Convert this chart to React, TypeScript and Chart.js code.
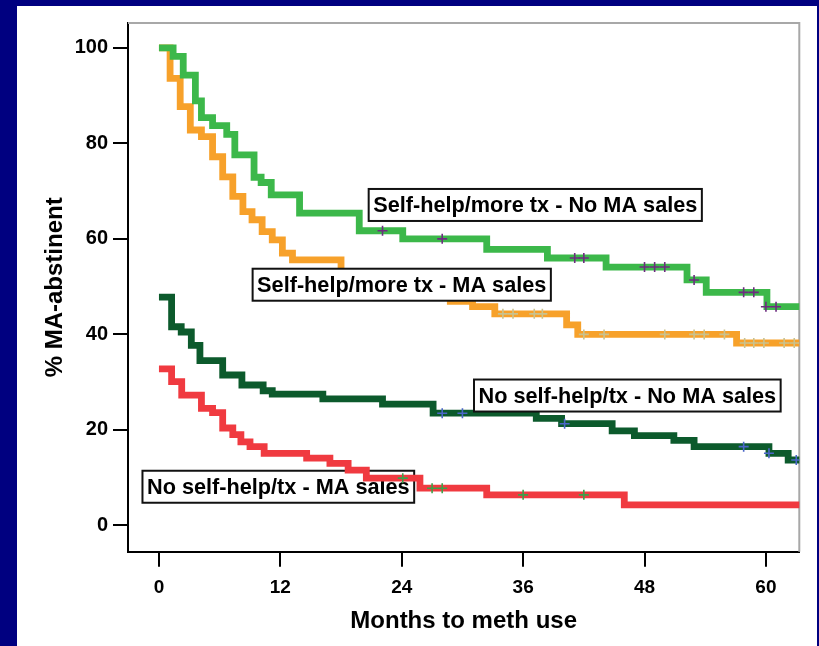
import React, { useEffect, useRef } from "react";
import { Chart, registerables } from "chart.js";

Chart.register(...registerables);

// Kaplan-Meier step curves: month where each level starts, and level (%)
const shNoSalesT = [0, 1.4, 2.4, 3.6, 4.2, 5.3, 6.7, 7.5, 9.4, 10.1, 11.1, 13.9, 19.8, 24.1, 32.4, 38.4, 44.2, 52.2, 54.1, 60.1, 63.6];
const shNoSalesV = [100, 98.2, 94.3, 88.9, 85.4, 83.7, 81.9, 77.6, 72.9, 71.8, 69.2, 65.4, 61.7, 60, 57.8, 56, 54.1, 51.4, 48.8, 45.8, 45.8];
const shNoSalesCensT = [22.1, 28, 41.1, 42, 48, 49, 50, 52.9, 57.8, 58.8, 60, 61];
const shNoSalesCensV = [61.7, 60, 56, 56, 54.1, 54.1, 54.1, 51.4, 48.8, 48.8, 45.8, 45.8];

const shSalesT = [0, 1.1, 2.1, 3.1, 4.2, 5.3, 6.3, 7.3, 8.3, 9.2, 10.2, 11.2, 12.2, 13.2, 18.0, 22.5, 26.7, 28.8, 31.0, 33.2, 40.3, 41.4, 57.1, 63.6];
const shSalesV = [100, 93.6, 87.7, 82.8, 81.4, 77.2, 73.0, 68.9, 65.7, 64.0, 61.5, 59.8, 57.0, 55.6, 52.8, 51.1, 49.0, 46.9, 45.8, 44.3, 42.0, 40.0, 38.2, 38.2];
const shSalesCensT = [34, 35, 37.1, 37.9, 42, 44, 50, 52.9, 53.9, 55.9, 57.9, 58.8, 59.8, 61.8, 62.8];
const shSalesCensV = [44.3, 44.3, 44.3, 44.3, 40, 40, 40, 40, 40, 40, 38.2, 38.2, 38.2, 38.2, 38.2];

const noShNoSalesT = [0, 1.25, 2.2, 3.2, 4.05, 6.3, 8.2, 10.3, 11.2, 16.2, 22.1, 27.1, 37.3, 39.8, 44.8, 47, 50.9, 52.9, 60.3, 62.2, 63.6];
const noShNoSalesV = [47.8, 41.6, 40.5, 37.7, 34.5, 31.5, 29.4, 28.2, 27.5, 26.5, 25.4, 23.5, 22.4, 21.3, 19.8, 18.8, 17.8, 16.5, 15.1, 13.7, 13.7];
const noShNoSalesCensT = [28, 30, 40.1, 57.8, 60.3, 63];
const noShNoSalesCensV = [23.5, 23.5, 21.3, 16.5, 15.1, 13.7];

const noShSalesT = [0, 1.25, 2.25, 4.2, 5.3, 6.3, 7.3, 8.1, 9.0, 10.4, 14.6, 16.9, 18.7, 20.5, 25.8, 32.4, 46, 63.6];
const noShSalesV = [32.8, 30.1, 27.3, 24.5, 23.6, 20.4, 19.0, 17.5, 16.5, 15.1, 14.1, 13.0, 11.6, 9.9, 7.8, 6.4, 4.3, 4.3];
const noShSalesCensT = [24.1, 27, 28, 36, 42];
const noShSalesCensV = [9.9, 7.8, 7.8, 6.4, 6.4];

const xTickValues = [0, 12, 24, 36, 48, 60];
const yTickValues = [0, 20, 40, 60, 80, 100];

const labelTexts = [
  "Self-help/more tx - No MA sales",
  "Self-help/more tx - MA sales",
  "No self-help/tx - No MA sales",
  "No self-help/tx - MA sales",
];
const labelX = [37.2, 24.0, 46.3, 11.8];
const labelY = [67.1, 50.4, 27.2, 8.1];
const labelOnTop = [true, true, true, false];

const FONT = '"Liberation Sans", Arial, Helvetica, sans-serif';

const pts = (t: number[], v: number[]) => t.map((x, i) => ({ x, y: v[i] }));

const lineDs = (label: string, t: number[], v: number[], color: string) => ({
  type: "line" as const,
  label,
  data: pts(t, v),
  borderColor: color,
  backgroundColor: color,
  borderWidth: 6.8,
  stepped: "before" as const,
  pointRadius: 0,
  fill: false,
  borderCapStyle: "butt" as const,
  borderJoinStyle: "miter" as const,
});

const censDs = (label: string, t: number[], v: number[], color: string) => ({
  type: "scatter" as const,
  label,
  data: pts(t, v),
  showLine: false,
  pointStyle: "cross" as const,
  pointRadius: 5,
  pointBorderWidth: 1.6,
  pointBorderColor: color,
  pointBackgroundColor: color,
  borderColor: color,
});

function drawLabels(chart: any, top: boolean) {
  const { ctx, scales } = chart;
  ctx.save();
  ctx.font = `bold 21.7px ${FONT}`;
  ctx.textAlign = "center";
  ctx.textBaseline = "middle";
  labelTexts.forEach((txt, i) => {
    if (labelOnTop[i] !== top) return;
    const px = scales.x.getPixelForValue(labelX[i]);
    const py = scales.y.getPixelForValue(labelY[i]);
    const w = ctx.measureText(txt).width + 9;
    const h = 32;
    ctx.fillStyle = "#ffffff";
    ctx.fillRect(px - w / 2, py - h / 2, w, h);
    ctx.strokeStyle = "#111111";
    ctx.lineWidth = 2;
    ctx.strokeRect(px - w / 2, py - h / 2, w, h);
    ctx.fillStyle = "#000000";
    ctx.fillText(txt, px, py + 1);
  });
  ctx.restore();
}

const labelPlugin = {
  id: "kmLabels",
  beforeDatasetsDraw(chart: any) {
    const { ctx, chartArea } = chart;
    ctx.save();
    // top and right frame lines
    ctx.strokeStyle = "#a8a8a8";
    ctx.lineWidth = 2;
    ctx.beginPath();
    ctx.moveTo(chartArea.left, chartArea.top);
    ctx.lineTo(chartArea.right, chartArea.top);
    ctx.lineTo(chartArea.right, chartArea.bottom);
    ctx.stroke();
    ctx.restore();
    drawLabels(chart, false);
  },
  afterDatasetsDraw(chart: any) {
    drawLabels(chart, true);
  },
};

export default function App() {
  const ref = useRef<HTMLCanvasElement | null>(null);

  useEffect(() => {
    if (!ref.current) return;
    const chart = new Chart(ref.current, {
      type: "line",
      data: {
        datasets: [
          censDs("c1", shNoSalesCensT, shNoSalesCensV, "#6e2c80"),
          censDs("c2", shSalesCensT, shSalesCensV, "#c9c28e"),
          censDs("c3", noShNoSalesCensT, noShNoSalesCensV, "#4a66c8"),
          censDs("c4", noShSalesCensT, noShSalesCensV, "#3ea04a"),
          lineDs("Self-help/more tx - No MA sales", shNoSalesT, shNoSalesV, "#3cb84a"),
          lineDs("Self-help/more tx - MA sales", shSalesT, shSalesV, "#f7a12a"),
          lineDs("No self-help/tx - No MA sales", noShNoSalesT, noShNoSalesV, "#0c5a2c"),
          lineDs("No self-help/tx - MA sales", noShSalesT, noShSalesV, "#f03a40"),
        ] as any,
      },
      options: {
        animation: false,
        responsive: false,
        devicePixelRatio: 1,
        layout: { padding: { left: 0, top: 16.7, right: 17.7, bottom: 0 } },
        plugins: {
          legend: { display: false },
          tooltip: { enabled: false },
        },
        scales: {
          x: {
            type: "linear",
            min: -3.06,
            max: 63.3,
            afterFit: (s: any) => {
              s.height = 94.3;
            },
            afterBuildTicks: (s: any) => {
              s.ticks = xTickValues.map((v) => ({ value: v }));
            },
            ticks: {
              color: "#000",
              font: { family: FONT, weight: "bold", size: 19 },
              padding: 10,
              maxRotation: 0,
              callback: (v: any) => String(v),
            },
            grid: {
              drawOnChartArea: false,
              drawTicks: true,
              tickLength: 15,
              color: "#000",
              lineWidth: 2,
            },
            border: { display: true, color: "#000", width: 2 },
            title: {
              display: true,
              text: "Months to meth use",
              color: "#000",
              font: { family: FONT, weight: "bold", size: 24 },
              padding: { top: 0, bottom: 10 },
            },
          },
          y: {
            type: "linear",
            min: -5.5,
            max: 105.2,
            afterFit: (s: any) => {
              s.width = 111;
            },
            afterBuildTicks: (s: any) => {
              s.ticks = yTickValues.map((v) => ({ value: v }));
            },
            ticks: {
              color: "#000",
              font: { family: FONT, weight: "bold", size: 20 },
              padding: 5,
              callback: (v: any) => String(v),
            },
            grid: {
              drawOnChartArea: false,
              drawTicks: true,
              tickLength: 15,
              color: "#000",
              lineWidth: 2,
            },
            border: { display: true, color: "#000", width: 2 },
            title: {
              display: true,
              text: "% MA-abstinent",
              color: "#000",
              font: { family: FONT, weight: "bold", size: 24 },
              padding: { top: 23.5, bottom: 0 },
            },
          },
        },
      },
      plugins: [labelPlugin],
    } as any);
    return () => chart.destroy();
  }, []);

  return (
    <div
      style={{
        position: "fixed",
        left: 0,
        top: 0,
        width: 819,
        height: 646,
        background: "#000080",
        overflow: "hidden",
      }}
    >
      <div
        style={{
          position: "absolute",
          left: 17,
          top: 6,
          width: 800,
          height: 640,
          background: "#ffffff",
        }}
      >
        <canvas ref={ref} width={800} height={640} style={{ display: "block" }} />
      </div>
    </div>
  );
}
